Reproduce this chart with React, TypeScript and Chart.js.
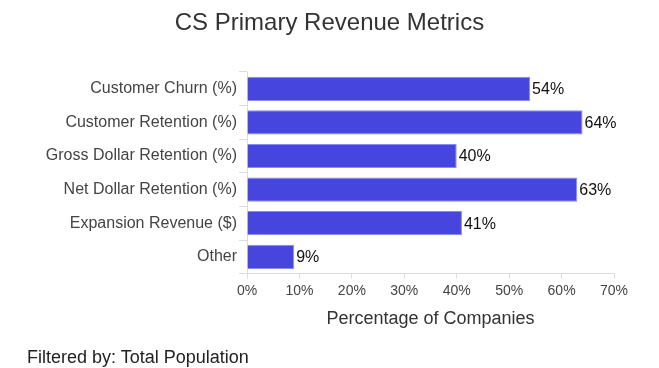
import React, { useEffect, useRef } from "react";
import { Chart, registerables } from "chart.js";

Chart.register(...registerables);

const titleText = "CS Primary Revenue Metrics";
const footerText = "Filtered by: Total Population";
const categories = [
  "Customer Churn (%)",
  "Customer Retention (%)",
  "Gross Dollar Retention (%)",
  "Net Dollar Retention (%)",
  "Expansion Revenue ($)",
  "Other",
];
const values = [54, 64, 40, 63, 41, 9];
const xTicks = [0, 10, 20, 30, 40, 50, 60, 70];

const FONT = "'Liberation Sans', Arial, sans-serif";

const labelPlugin = {
  id: "barLabels",
  afterDatasetsDraw(chart: any) {
    const ctx = chart.ctx;
    const meta = chart.getDatasetMeta(0);
    ctx.save();
    ctx.fillStyle = "#111";
    ctx.font = `16px ${FONT}`;
    ctx.textAlign = "left";
    ctx.textBaseline = "middle";
    meta.data.forEach((bar: any, i: number) => {
      ctx.fillText(`${values[i]}%`, bar.x + 2, bar.y + 1);
    });
    ctx.restore();
  },
};

export default function App() {
  const ref = useRef<HTMLCanvasElement | null>(null);
  useEffect(() => {
    if (!ref.current) return;
    const chart = new Chart(ref.current, {
      type: "bar",
      data: {
        labels: categories,
        datasets: [
          {
            data: values,
            backgroundColor: "#4646DE",
            borderColor: "#8A8AF0",
            borderWidth: 1,
            barPercentage: 0.9,
            categoryPercentage: 0.8,
          },
        ],
      },
      options: {
        indexAxis: "y",
        responsive: true,
        maintainAspectRatio: false,
        animation: false,
        layout: { padding: { top: 64, right: 37, bottom: 30, left: 0 } },
        plugins: {
          legend: { display: false },
          tooltip: { enabled: false },
          title: { display: false },
        },
        scales: {
          x: {
            min: 0,
            max: 70,
            afterBuildTicks(axis: any) {
              axis.ticks = xTicks.map((v) => ({ value: v }));
            },
            ticks: {
              color: "#444",
              font: { family: FONT, size: 14 },
              padding: 4,
              callback: (v: any) => `${v}%`,
            },
            grid: {
              drawOnChartArea: false,
              drawTicks: true,
              tickLength: 5,
              color: "#ddd",
            },
            border: { color: "#ddd" },
            title: {
              display: true,
              text: "Percentage of Companies",
              color: "#333",
              font: { family: FONT, size: 18 },
              padding: { top: 5, bottom: 0 },
            },
          },
          y: {
            afterFit(axis: any) {
              axis.width = 239;
            },
            ticks: {
              color: "#444",
              font: { family: FONT, size: 16 },
              padding: 2,
            },
            grid: {
              drawOnChartArea: false,
              drawTicks: true,
              tickLength: 8,
              offset: true,
              color: "#ddd",
            },
            border: { color: "#ddd" },
          },
        },
      },
      plugins: [labelPlugin],
    });
    return () => chart.destroy();
  }, []);

  return (
    <div style={{ position: "relative", width: 643, height: 360 }}>
      <div style={{ position: "relative", width: 643, height: 352 }}>
        <canvas ref={ref} />
      </div>
      <div
        style={{
          position: "absolute",
          left: 0,
          top: 0,
          width: 643,
          textAlign: "center",
          fontFamily: FONT,
          fontSize: 24,
          color: "#333",
          lineHeight: "28px",
        }}
      >
        {titleText}
      </div>
      <div
        style={{
          position: "absolute",
          left: 19,
          top: 338,
          fontFamily: FONT,
          fontSize: 18,
          color: "#222",
          lineHeight: "22px",
        }}
      >
        {footerText}
      </div>
    </div>
  );
}
